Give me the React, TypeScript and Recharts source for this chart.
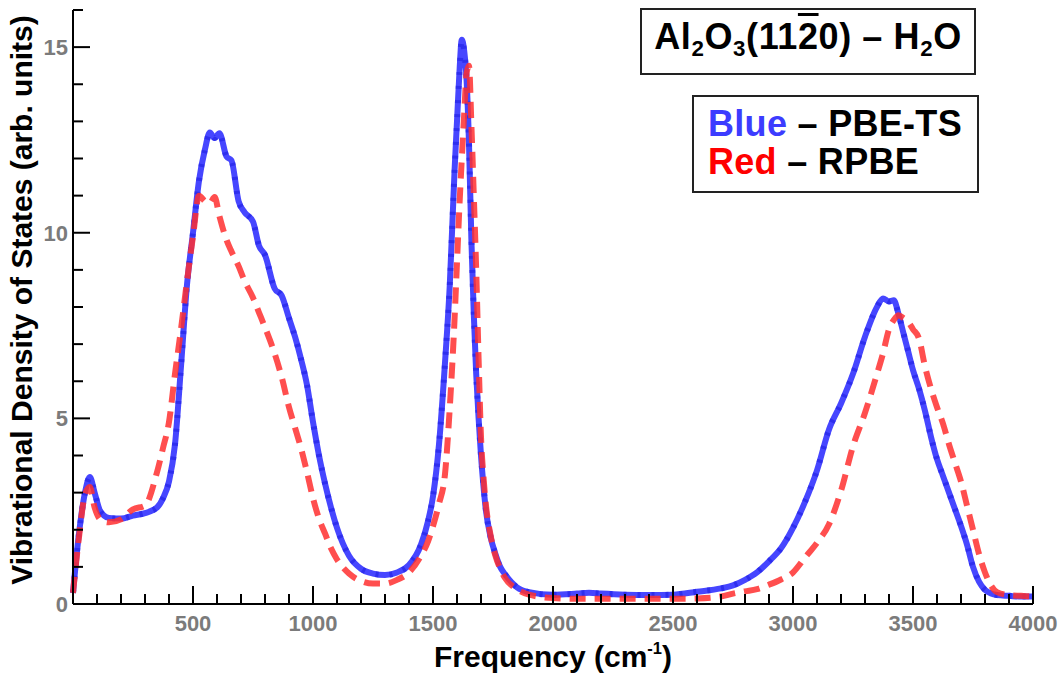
import { LineChart, Line, XAxis, YAxis } from 'recharts'

const frequency = [
  0, 25, 50, 70, 90, 110, 130, 150, 200, 250, 300, 350, 375, 400, 425, 450, 475, 500, 525, 550,
  570, 590, 610, 640, 660, 690, 715, 750, 775, 800, 840, 870, 900, 925, 950, 975, 1000, 1025, 1050, 1075,
  1100, 1150, 1200, 1250, 1300, 1350, 1400, 1450, 1480, 1500, 1525, 1550, 1570, 1590, 1600, 1610, 1620, 1630, 1640, 1650,
  1660, 1670, 1680, 1690, 1700, 1710, 1720, 1740, 1760, 1780, 1800, 1850, 1900, 2000, 2100, 2150, 2200, 2300, 2400, 2500,
  2600, 2700, 2750, 2800, 2850, 2900, 2950, 3000, 3050, 3100, 3150, 3200, 3250, 3300, 3350, 3375, 3400, 3420, 3440, 3460,
  3480, 3500, 3525, 3550, 3575, 3600, 3625, 3650, 3675, 3700, 3725, 3750, 3775, 3800, 3825, 3850, 3900, 3950, 4000,
]

// PBE-TS (blue)
const pbeTs = [
  0.3, 1.9, 3.0, 3.42, 3.0, 2.55, 2.38, 2.32, 2.3, 2.38, 2.45, 2.6, 2.85, 3.3, 4.3, 6.4, 8.6, 10.0, 11.4, 12.25,
  12.7, 12.55, 12.68, 12.05, 11.95, 10.85, 10.55, 10.3, 9.65, 9.4, 8.5, 8.3, 7.7, 7.2, 6.6, 5.9, 4.9, 4.0, 3.25, 2.6,
  2.05, 1.3, 0.95, 0.82, 0.78, 0.85, 1.05, 1.6, 2.25, 2.9, 4.3, 6.5, 8.6, 11.7, 13.0, 14.3, 15.2, 14.9, 14.1, 12.4,
  9.8, 7.8, 6.2, 5.0, 4.0, 3.2, 2.55, 1.8, 1.35, 1.0, 0.8, 0.45, 0.32, 0.25, 0.28, 0.3, 0.28, 0.25, 0.24, 0.25,
  0.33, 0.42, 0.5, 0.65, 0.85, 1.15, 1.5, 2.05, 2.75, 3.6, 4.7, 5.4, 6.2, 7.2, 8.0, 8.23, 8.15, 8.18, 7.8, 7.3,
  6.8, 6.3, 5.8, 5.2, 4.5, 3.9, 3.45, 3.0, 2.55, 2.1, 1.6, 1.0, 0.6, 0.38, 0.28, 0.24, 0.22, 0.2, 0.2,
]

// RPBE (red)
const rpbe = [
  0.3, 1.8, 2.95, 3.15, 2.6, 2.3, 2.22, 2.2, 2.28, 2.55, 2.65, 3.55, 4.2, 4.9, 6.2, 7.4, 8.7, 9.9, 11.0, 10.85,
  10.8, 10.96, 10.45, 9.8, 9.5, 9.1, 8.7, 8.25, 7.85, 7.45, 6.75, 6.1, 5.3, 4.75, 4.2, 3.55, 2.85, 2.3, 1.9, 1.5,
  1.2, 0.82, 0.62, 0.55, 0.55, 0.65, 0.85, 1.3, 1.7, 2.1, 2.7, 3.5, 5.3, 7.7, 9.2, 10.7, 12.0, 13.2, 14.3, 14.5,
  12.9, 11.0, 9.0, 6.6, 4.5, 3.45, 2.7, 1.85, 1.3, 0.95, 0.7, 0.4, 0.25, 0.16, 0.14, 0.14, 0.14, 0.14, 0.14, 0.14,
  0.15, 0.2, 0.28, 0.34, 0.4, 0.52, 0.66, 0.85, 1.25, 1.65, 2.15, 3.05, 4.25, 5.15, 6.2, 6.75, 7.4, 7.65, 7.78, 7.7,
  7.6, 7.4, 7.15, 6.4, 5.8, 5.3, 4.86, 4.3, 3.8, 3.3, 2.65, 2.0, 1.35, 0.85, 0.5, 0.32, 0.24, 0.22, 0.2,
]

const xTicks = Array.from({ length: 41 }, (_, i) => i * 100)
const yTicks = Array.from({ length: 17 }, (_, i) => i)
const xLabels = [500, 1000, 1500, 2000, 2500, 3000, 3500, 4000]
const yLabels = [0, 5, 10, 15]

const data = frequency.map((f, i) => ({ f, blue: pbeTs[i], red: rpbe[i] }))

const FONT = '"Liberation Sans", Arial, sans-serif'
const TICK_GREY = '#7b7b7b'

const XTick = (props: any) => {
  const { x, y, payload } = props
  const v = payload.value
  const major = v % 500 === 0
  return (
    <g>
      <line x1={x} x2={x} y1={y} y2={y - (major ? 18 : 10)} stroke="#000" strokeWidth={2} />
      {xLabels.includes(v) && (
        <text x={x} y={y + 27} textAnchor="middle" fill={TICK_GREY} fontFamily={FONT} fontWeight="bold" fontSize={22}>
          {v}
        </text>
      )}
    </g>
  )
}

const YTick = (props: any) => {
  const { x, y, payload } = props
  const v = payload.value
  const major = v % 5 === 0
  return (
    <g>
      <line x1={x} x2={x + (major ? 17 : 10)} y1={y} y2={y} stroke="#000" strokeWidth={2} />
      {yLabels.includes(v) && (
        <text x={x - 5} y={y + 8} textAnchor="end" fill={TICK_GREY} fontFamily={FONT} fontWeight="bold" fontSize={22}>
          {v}
        </text>
      )}
    </g>
  )
}

const sub = { fontSize: '0.62em', position: 'relative' as const, top: '0.32em' }

export default function App() {
  return (
    <div style={{ position: 'absolute', left: 0, top: 0, width: 1061, height: 674, background: '#fff', fontFamily: FONT }}>
      <LineChart width={1061} height={674} data={data} margin={{ top: 10, right: 28, bottom: 0, left: 0 }}>
        <XAxis
          dataKey="f"
          type="number"
          domain={[0, 4000]}
          ticks={xTicks}
          interval={0}
          tickSize={0}
          tickMargin={0}
          tickLine={false}
          axisLine={{ stroke: '#000', strokeWidth: 2 }}
          tick={XTick}
          height={70}
        />
        <YAxis
          type="number"
          domain={[0, 16]}
          ticks={yTicks}
          interval={0}
          tickSize={0}
          tickMargin={0}
          tickLine={false}
          axisLine={{ stroke: '#000', strokeWidth: 2 }}
          tick={YTick}
          width={73}
        />
        <Line
          type="monotone"
          dataKey="blue"
          stroke="#4646ff"
          strokeWidth={6}
          dot={false}
          activeDot={false}
          isAnimationActive={false}
        />
        <Line
          type="monotone"
          dataKey="blue"
          stroke="#1c1ce0"
          strokeWidth={6}
          strokeDasharray="3 11"
          strokeOpacity={0.55}
          dot={false}
          activeDot={false}
          isAnimationActive={false}
        />
        <Line
          type="monotone"
          dataKey="red"
          stroke="#ff2f2f"
          strokeOpacity={0.85}
          strokeWidth={6}
          strokeDasharray="16 9"
          dot={false}
          activeDot={false}
          isAnimationActive={false}
        />
      </LineChart>

      <div
        style={{
          position: 'absolute', left: 22 - 300, top: 300 - 15, width: 600, height: 30, lineHeight: '30px',
          textAlign: 'center', transform: 'rotate(-90deg)', fontSize: 30, fontWeight: 'bold', color: '#000', whiteSpace: 'nowrap',
        }}
      >
        Vibrational Density of States (arb. units)
      </div>
      <div
        style={{
          position: 'absolute', left: 553 - 300, top: 642, width: 600, lineHeight: 1,
          textAlign: 'center', fontSize: 30, fontWeight: 'bold', color: '#000', whiteSpace: 'nowrap',
        }}
      >
        Frequency (cm<span style={{ fontSize: '0.55em', position: 'relative', top: '-0.8em' }}>-1</span>)
      </div>

      <div
        style={{
          position: 'absolute', left: 640, top: 8, width: 336, height: 67, boxSizing: 'border-box',
          border: '2px solid #222', background: '#fff',
        }}
      >
        <div
          style={{
            position: 'absolute', left: 0, width: '100%', top: 9, fontSize: 36, lineHeight: 1, fontWeight: 'bold',
            color: '#000', whiteSpace: 'nowrap', textAlign: 'center', letterSpacing: 0.6,
          }}
        >
          Al<span style={sub}>2</span>O<span style={sub}>3</span>(11<span style={{ textDecoration: 'overline' }}>2</span>0) – H<span style={sub}>2</span>O
        </div>
      </div>

      <div
        style={{
          position: 'absolute', left: 692, top: 95, width: 287, height: 98, boxSizing: 'border-box',
          border: '2px solid #222', background: '#fff', padding: '8px 0 0 14px',
          fontSize: 36, lineHeight: '38px', fontWeight: 'bold', color: '#000', whiteSpace: 'nowrap', letterSpacing: 0.3,
        }}
      >
        <div><span style={{ color: '#3c3cff' }}>Blue</span> – PBE-TS</div>
        <div><span style={{ color: '#ff0000' }}>Red</span> – RPBE</div>
      </div>
    </div>
  )
}
